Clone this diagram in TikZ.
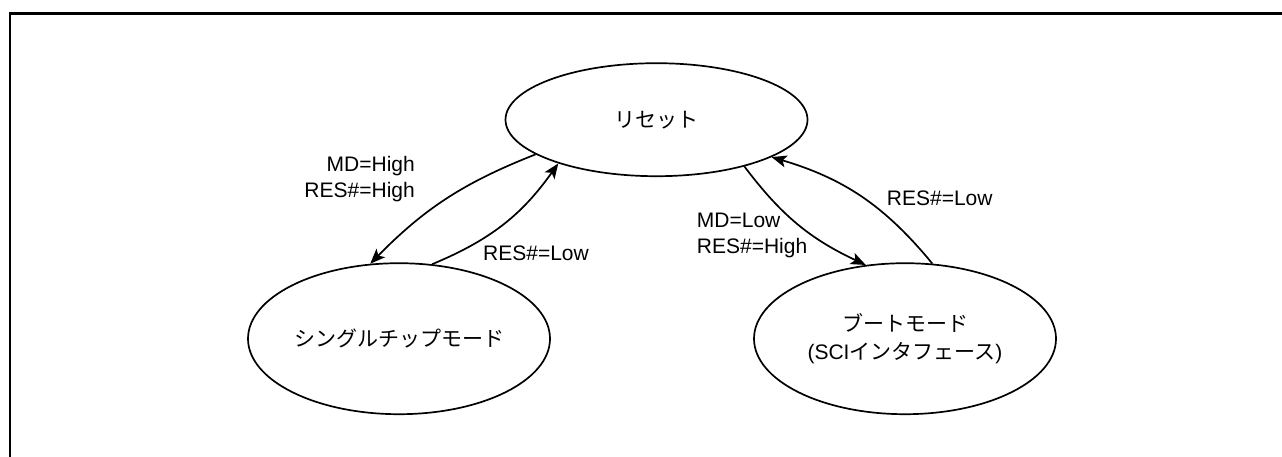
\documentclass[tikz,border=0pt]{standalone}
\usepackage{fontspec}
\setmainfont{Liberation Sans}
\newfontfamily\jpfont{Noto Sans CJK JP}
\usetikzlibrary{arrows.meta,shapes.geometric}

\begin{document}
\begin{tikzpicture}[x=1pt, y=-1pt,
    state/.style={draw, ellipse, line width=1.7pt, minimum width=302pt, inner sep=0pt, align=center, font=\jpfont\fontsize{21}{28}\selectfont},
    arr/.style={-{Stealth[length=15pt,width=12pt,inset=3.5pt]}, line width=1.7pt},
    lbl/.style={inner sep=0pt, font=\fontsize{21}{26}\selectfont}
]
\useasboundingbox (0,0) rectangle (1282,456);
\draw[line width=2.7pt] (10,470) -- (10,13.5) -- (1290,13.5);

\node[state, minimum height=113pt] (reset) at (656.5,119.7) {リセット};
\node[state, minimum height=151pt] (chip) at (399,338.7) {シングルチップモード};
\node[state, minimum height=151pt] (boot) at (905,338.7) {ブートモード\\{\rmfamily (SCI}インタフェース{\rmfamily )}};

\node[lbl, anchor=east, align=right] (mdhigh) at (415,179) {MD=High\\RES\#=High};
\node[lbl, anchor=west] (reslowa) at (483,253.5) {RES\#=Low};
\node[lbl, anchor=west, align=left] (mdlow) at (696.7,235) {MD=Low\\RES\#=High};
\node[lbl, anchor=west] (reslowb) at (886.7,198.3) {RES\#=Low};

\draw[arr] (reset.196) to[bend right=12] (chip.111);
\draw[arr] (chip.66) to[bend right=16] (reset.204);
\draw[arr] (reset.332) to[bend right=14] (boot.118);
\draw[arr] (boot.70) to[bend right=17] (reset.342);
\end{tikzpicture}
\end{document}
